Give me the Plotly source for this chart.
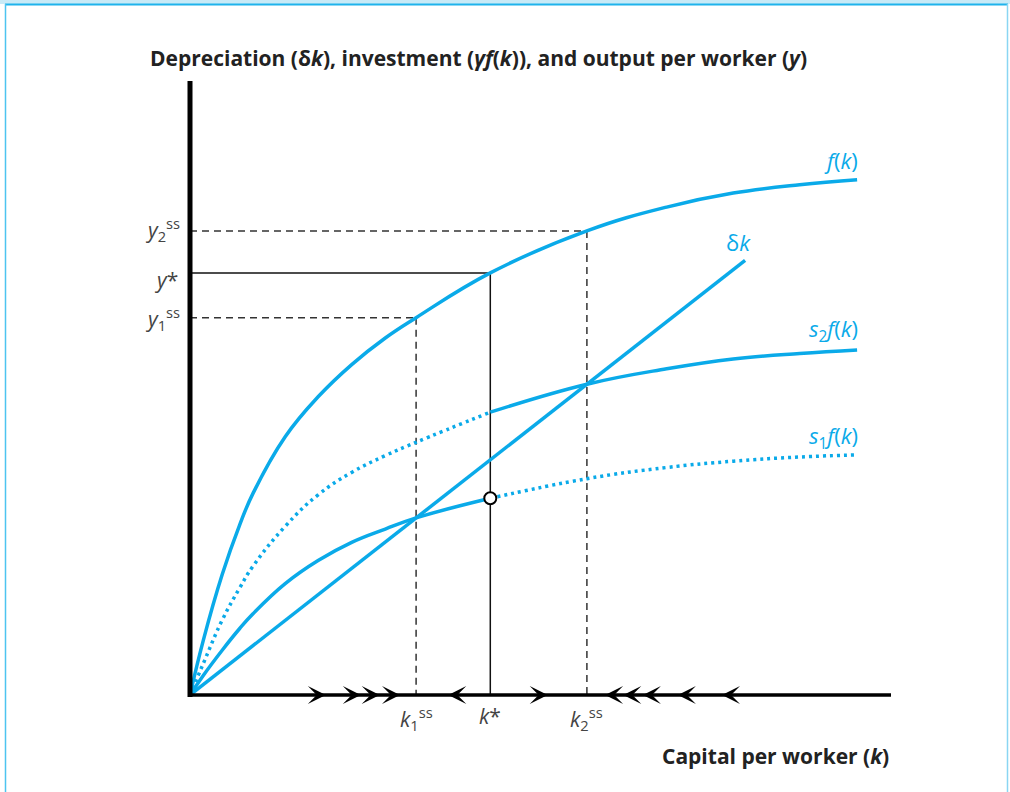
import plotly.graph_objects as go

# ---- data (k and output in chart units) ----
k_grid = [0, 0.19, 0.46, 0.71, 0.9, 1.36, 1.83, 2.31, 2.79, 3.23, 4.29, 5.67, 6.81, 7.76, 8.71, 9.53]
f_vals = [0, 0.78, 1.72, 2.43, 2.88, 3.69, 4.26, 4.72, 5.10, 5.39, 6.03, 6.63, 6.97, 7.17, 7.29, 7.36]
s2f_vals = [0, 0.45, 1.07, 1.53, 1.84, 2.41, 2.86, 3.18, 3.42, 3.61, 4.04, 4.44, 4.66, 4.80, 4.88, 4.93]
s1f_vals = [0, 0.28, 0.64, 0.95, 1.16, 1.59, 1.92, 2.18, 2.37, 2.53, 2.81, 3.09, 3.25, 3.34, 3.40, 3.43]
k_dep = [0, 7.93]
dep_vals = [0, 6.21]

k1_ss, y1_ss = 3.23, 5.39
k_star, y_star = 4.29, 6.03
k2_ss, y2_ss = 5.67, 6.63
s1_at_kstar = 2.81

arrows_right = [1.94, 2.44, 2.71, 3.0, 5.11]
arrows_left = [3.69, 5.93, 6.19, 6.47, 6.97, 7.6]

split = k_grid.index(k_star)

BLUE = "#0aaae9"
W, H = 1010, 792
L, R, T, B = 190, 120, 81, 97
XR = [0, 10]
YR = [0, 8.771]

def pxx(p):  # pixel x -> paper
    return (p - L) / (W - L - R)

def pxy(p):  # pixel y -> paper
    return (H - B - p) / (H - T - B)

fig = go.Figure()

def curve(xs, ys, dash):
    fig.add_trace(go.Scatter(x=xs, y=ys, mode="lines",
                             line=dict(color=BLUE, width=3.5, dash=dash, shape="spline", smoothing=1.2),
                             hoverinfo="skip", showlegend=False))

curve(k_grid, f_vals, "solid")
curve(k_grid[:split + 1], s2f_vals[:split + 1], "3px,4px")
curve(k_grid[split:], s2f_vals[split:], "solid")
curve(k_grid[:split + 1], s1f_vals[:split + 1], "solid")
curve(k_grid[split:], s1f_vals[split:], "3px,4px")
fig.add_trace(go.Scatter(x=k_dep, y=dep_vals, mode="lines",
                         line=dict(color=BLUE, width=3.5), hoverinfo="skip", showlegend=False))

shapes = []
# guide lines
for kk, yy, dash, col in [(k1_ss, y1_ss, "7px,5px", "#333333"),
                          (k2_ss, y2_ss, "7px,5px", "#333333"),
                          (k_star, y_star, "solid", "#111111")]:
    shapes.append(dict(type="line", xref="x", yref="y", x0=0, x1=kk, y0=yy, y1=yy,
                       line=dict(color=col, width=1.5, dash=dash), layer="below"))
    shapes.append(dict(type="line", xref="x", yref="y", x0=kk, x1=kk, y0=yy, y1=0,
                       line=dict(color=col, width=1.5, dash=dash), layer="below"))
# axes
shapes.append(dict(type="line", xref="paper", yref="paper", x0=0, x1=0, y0=pxy(697), y1=1,
                   line=dict(color="black", width=5)))
shapes.append(dict(type="line", xref="paper", yref="paper", x0=pxx(188), x1=pxx(891), y0=0, y1=0,
                   line=dict(color="black", width=3.5)))
# frame
shapes.append(dict(type="rect", xref="paper", yref="paper", x0=pxx(0), x1=pxx(W), y0=pxy(0), y1=pxy(4),
                   line=dict(width=0), fillcolor="#c8eaf7"))
shapes.append(dict(type="line", xref="paper", yref="paper", x0=pxx(5), x1=pxx(1008), y0=pxy(4.5), y1=pxy(4.5),
                   line=dict(color="#1fb3ec", width=2)))
shapes.append(dict(type="line", xref="paper", yref="paper", x0=pxx(5.5), x1=pxx(5.5), y0=pxy(4), y1=pxy(H + 5),
                   line=dict(color="#4cc4f0", width=1.5)))
shapes.append(dict(type="line", xref="paper", yref="paper", x0=pxx(1007.5), x1=pxx(1007.5), y0=pxy(4), y1=pxy(H + 5),
                   line=dict(color="#8ad6f3", width=1.5)))

# open circle
fig.add_trace(go.Scatter(x=[k_star], y=[s1_at_kstar], mode="markers",
                         marker=dict(size=12, color="white", line=dict(color="black", width=2)),
                         hoverinfo="skip", showlegend=False))

ann = []
FONT = "Open Sans"
for xa in arrows_right:
    ann.append(dict(x=xa, y=0, ax=xa - 0.3, ay=0, xref="x", yref="y", axref="x", ayref="y",
                    text="", showarrow=True, arrowhead=3, arrowsize=1.5, arrowwidth=2, arrowcolor="black"))
for xa in arrows_left:
    ann.append(dict(x=xa, y=0, ax=xa + 0.3, ay=0, xref="x", yref="y", axref="x", ayref="y",
                    text="", showarrow=True, arrowhead=3, arrowsize=1.5, arrowwidth=2, arrowcolor="black"))

title_txt = "<b>Depreciation (δ<i>k</i>), investment (<i>γf</i>(<i>k</i>)), and output per worker (<i>y</i>)</b>"
ann.append(dict(x=pxx(148), y=pxy(58), xref="paper", yref="paper", xanchor="left", yanchor="middle",
                text=title_txt, showarrow=False, font=dict(family=FONT, size=21, color="#222222")))
ann.append(dict(x=pxx(891), y=pxy(756), xref="paper", yref="paper", xanchor="right", yanchor="middle",
                text="<b>Capital per worker (<i>k</i>)</b>", showarrow=False,
                font=dict(family=FONT, size=21, color="#222222")))

blue_font = dict(family=FONT, size=22, color=BLUE)
ann.append(dict(x=pxx(860), y=pxy(160), xref="paper", yref="paper", xanchor="right", yanchor="middle",
                text="<i>f</i>(<i>k</i>)", showarrow=False, font=blue_font))
ann.append(dict(x=pxx(738), y=pxy(242), xref="paper", yref="paper", xanchor="center", yanchor="middle",
                text="δ<i>k</i>", showarrow=False, font=blue_font))
ann.append(dict(x=pxx(860), y=pxy(330), xref="paper", yref="paper", xanchor="right", yanchor="middle",
                text="<i>s</i><sub>2</sub><i>f</i>(<i>k</i>)", showarrow=False, font=blue_font))
ann.append(dict(x=pxx(860), y=pxy(437), xref="paper", yref="paper", xanchor="right", yanchor="middle",
                text="<i>s</i><sub>1</sub><i>f</i>(<i>k</i>)", showarrow=False, font=blue_font))

grey_font = dict(family=FONT, size=21, color="#444444")
ann.append(dict(x=pxx(182), y=pxy(229), xref="paper", yref="paper", xanchor="right", yanchor="middle",
                text="<i>y</i><sub>2</sub><sup>ss</sup>", showarrow=False, font=grey_font))
ann.append(dict(x=pxx(180), y=pxy(280), xref="paper", yref="paper", xanchor="right", yanchor="middle",
                text="<i>y</i>*", showarrow=False, font=grey_font))
ann.append(dict(x=pxx(182), y=pxy(318), xref="paper", yref="paper", xanchor="right", yanchor="middle",
                text="<i>y</i><sub>1</sub><sup>ss</sup>", showarrow=False, font=grey_font))
ann.append(dict(x=k1_ss, y=pxy(718), xref="x", yref="paper", xanchor="center", yanchor="middle",
                text="<i>k</i><sub>1</sub><sup>ss</sup>", showarrow=False, font=grey_font))
ann.append(dict(x=k_star, y=pxy(716), xref="x", yref="paper", xanchor="center", yanchor="middle",
                text="<i>k</i>*", showarrow=False, font=grey_font))
ann.append(dict(x=k2_ss, y=pxy(718), xref="x", yref="paper", xanchor="center", yanchor="middle",
                text="<i>k</i><sub>2</sub><sup>ss</sup>", showarrow=False, font=grey_font))

fig.update_layout(
    width=W, height=H,
    margin=dict(l=L, r=R, t=T, b=B),
    paper_bgcolor="white", plot_bgcolor="white",
    xaxis=dict(range=XR, visible=False, fixedrange=True),
    yaxis=dict(range=YR, visible=False, fixedrange=True),
    shapes=shapes, annotations=ann, showlegend=False,
)

fig.write_html("out.html", config={"displayModeBar": False},
               post_script="document.body.style.margin='0px';")
